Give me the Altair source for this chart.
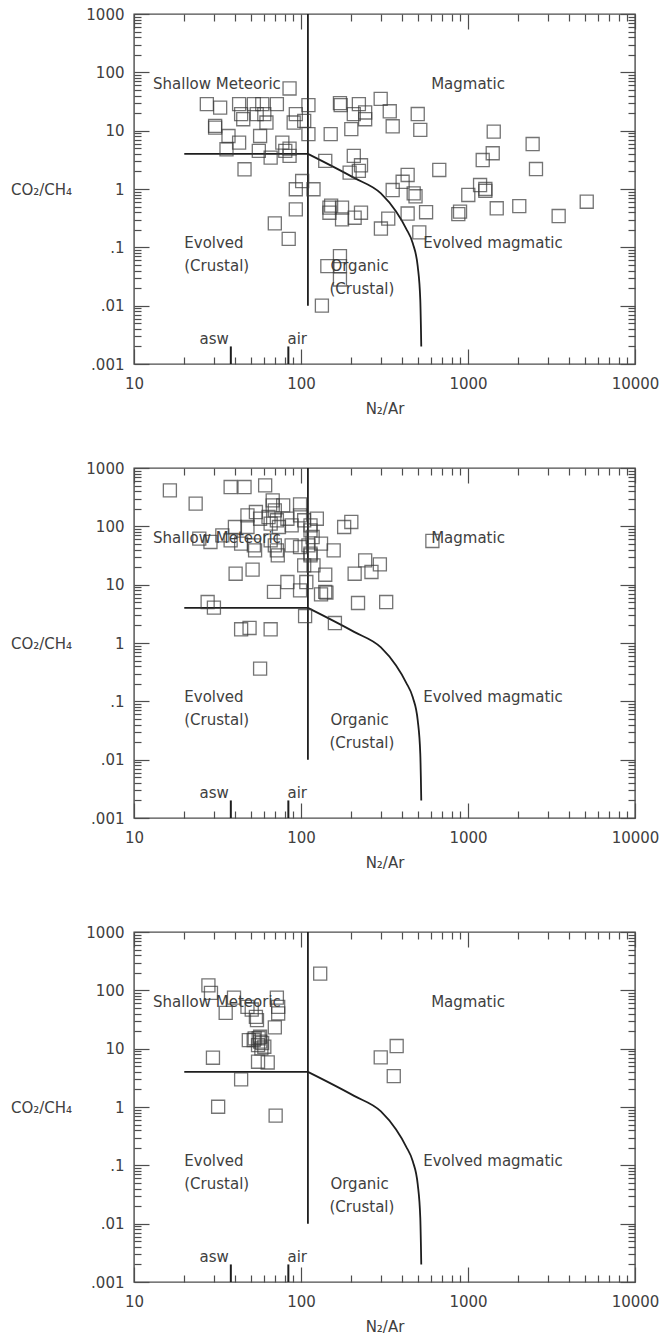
import altair as alt
import pandas as pd

FONT = "DejaVu Sans"
TEXT_COLOR = "#404040"
LINE_COLOR = "#1e1e1e"
FRAME_COLOR = "#4d4d4d"
MARK_COLOR = "#3a3a3a"
PLOT_W, PLOT_H = 501, 350

# ---------------- sample data (N2/Ar, CO2/CH4) ----------------
p1_n2ar = [27.3, 32.8, 30.6, 30.6, 36.8, 35.8, 42.6, 43.8, 45.1, 42.6,
           45.9, 52.2, 54.3, 55.9, 56.9, 58.6, 60.3, 62.1, 65.8, 71.7,
           77.3, 80.5, 85.4, 85.4, 93.1, 90.4, 104.5, 110.8, 110.8, 85.4,
           101.6, 93.1, 118.8, 93.1, 69.7, 84.4, 150.6, 139.7, 171.1, 172.8,
           207.1, 200.1, 222.1, 242.2, 242.2, 300, 340, 354, 207.1, 228.7,
           222.1, 195.5, 500, 518, 148, 148, 151.5, 176.1, 176.1, 209.5,
           228.7, 301, 333, 354, 406, 435, 473, 485, 435, 561,
           511, 171.1, 171.1, 143.8, 171.1, 133.4, 673, 1004, 896, 875,
           1181, 1270, 1270, 1225, 1406, 1426, 1486, 2028, 2438, 2553,
           3490, 5140]
p1_co2ch4 = [28.5, 24.9, 12.1, 11.3, 8.1, 4.8, 28.5, 19.2, 15.7, 6.25,
             2.18, 28.5, 19.2, 4.5, 8.1, 28.5, 19.2, 13.8, 3.45, 28.5,
             6.25, 4.5, 52.9, 3.69, 19.2, 13.8, 14.7, 27.4, 8.7, 4.93,
             1.37, 0.99, 0.99, 0.447, 0.257, 0.140, 8.7, 3.03, 29.6, 27.4,
             19.2, 10.6, 28.5, 20.5, 15.7, 35, 21.5, 11.9, 3.69, 2.55,
             2.04, 1.91, 19.3, 10.3, 0.478, 0.392, 0.52, 0.478, 0.301, 0.322,
             0.392, 0.21, 0.31, 0.96, 1.33, 1.74, 0.84, 0.75, 0.38, 0.40,
             0.18, 0.0707, 0.0476, 0.0476, 0.0281, 0.0100, 2.12, 0.79, 0.41, 0.37,
             1.17, 1.0, 0.93, 3.14, 4.1, 9.6, 0.467, 0.51, 5.9, 2.2,
             0.344, 0.605]

p2_n2ar = [16.4, 23.4, 37.9, 45.9, 61.0, 67.7, 67.7, 69.7, 78.2, 98.7,
           40.2, 47.8, 47.8, 53.7, 56.9, 63.9, 65.8, 71.7, 73.8, 82.9,
           87.9, 98.7, 104.5, 114, 124.4, 114, 117.4, 131.8, 156.9, 181.3,
           200.1, 24.6, 28.7, 33.8, 37.9, 43.8, 52.2, 53.1, 65.8, 69.7,
           71.7, 72.6, 87.9, 98.7, 110.8, 114, 114, 104.5, 118.8, 40.6,
           51.3, 82.9, 68.9, 98.7, 107.6, 131.8, 139.7, 142, 139.7, 209.5,
           242.2, 264.2, 296.7, 219.5, 323.6, 27.6, 30.1, 43.8, 49.2, 65.8,
           105.8, 159.6, 56.9, 612]
p2_co2ch4 = [414, 245, 472, 472, 505, 279, 229, 188, 229, 238,
             97.4, 154, 97.4, 176, 135, 144.5, 111, 127, 97.4, 135,
             104, 154, 127, 104, 135, 85.4, 65.6, 50.5, 38.8, 97.4,
             118.7, 61.4, 53.9, 70.1, 57.5, 50.5, 47.2, 38.8, 57.5, 47.2,
             38.8, 31.8, 47.2, 44.2, 47.2, 34, 31.8, 21.4, 21.4, 15.4,
             18.1, 11.1, 7.5, 8.0, 11.1, 6.8, 7.5, 7.3, 14.8, 15.4,
             26.1, 16.5, 22.3, 4.85, 5.04, 5.04, 4.03, 1.72, 1.81, 1.72,
             2.9, 2.2, 0.363, 56.1]

p3_n2ar = [27.9, 28.9, 39.7, 35.4, 71.7, 73.0, 73.0, 47.8, 50.7, 53.7,
           54.5, 69.7, 48.7, 52.8, 56.9, 55.3, 57.9, 60.3, 55.3, 63.2,
           29.7, 43.8, 31.9, 70.5, 130.3, 300.2, 374, 359.3, 55.8, 57.0,
           52.1, 58.5]
p3_co2ch4 = [122, 90.4, 75.2, 41.1, 75.2, 52.1, 40.1, 52.1, 46.9, 35.1,
             30.8, 23.1, 14.0, 15.0, 16.0, 11.5, 10.1, 10.8, 5.97, 5.8,
             6.99, 2.97, 1.01, 0.71, 194, 7.08, 11.1, 3.39, 15.1, 13.2,
             14.1, 12.5]

# ---------------- field boundaries ----------------
flat_n2ar = [20, 110]
flat_co2ch4 = [4, 4]
curve_n2ar = [110, 208, 301, 371, 426, 467, 500, 518, 525]
curve_co2ch4 = [4, 1.55, 0.84, 0.41, 0.21, 0.117, 0.047, 0.0125, 0.002]
divider_n2ar = [110]
divider_lo = [0.01]
divider_hi = [1000]
ref_n2ar = [38, 84]
ref_lo = [0.001, 0.001]
ref_hi = [0.002, 0.002]

# ---------------- region labels ----------------
label_text = ["Shallow Meteoric", "Magmatic", "Evolved magmatic", "Evolved",
              "(Crustal)", "Organic", "(Crustal)", "asw", "air"]
label_x = [13, 1000, 539, 20, 20, 150, 148, 37, 83]
label_y = [63, 63, 0.12, 0.12, 0.048, 0.048, 0.0195, 0.0027, 0.0027]
label_align = ["left", "center", "left", "left", "left", "left", "left",
               "right", "left"]

# ---------------- axis ticks ----------------
x_major = [10, 100, 1000, 10000]
y_major = [0.001, 0.01, 0.1, 1, 10, 100, 1000]
x_minor = [m * d for d in (10, 100, 1000) for m in range(2, 10)]
y_minor = [m * d for d in (0.001, 0.01, 0.1, 1, 10, 100) for m in range(2, 10)]

XS = alt.Scale(type="log", domain=[10, 10000], nice=False)
YS = alt.Scale(type="log", domain=[0.001, 1000], nice=False)

flat_df = pd.DataFrame({"x": flat_n2ar, "y": flat_co2ch4})
curve_df = pd.DataFrame({"x": curve_n2ar, "y": curve_co2ch4})
divider_df = pd.DataFrame({"x": divider_n2ar, "y": divider_lo, "y2": divider_hi})
ref_df = pd.DataFrame({"x": ref_n2ar, "y": ref_lo, "y2": ref_hi})
labels_df = pd.DataFrame({"x": label_x, "y": label_y, "text": label_text,
                          "align": label_align})


def tick_layer(df, x_orient, y_orient, xv, yv, size):
    return alt.Chart(df).mark_point(opacity=0).encode(
        x=alt.X("n2ar:Q", scale=XS,
                axis=alt.Axis(orient=x_orient, offset=-PLOT_H, values=xv,
                              tickSize=size, labels=False, domain=False,
                              grid=False, title=None, tickColor=FRAME_COLOR,
                              tickWidth=1.2)),
        y=alt.Y("co2ch4:Q", scale=YS,
                axis=alt.Axis(orient=y_orient, offset=-PLOT_W, values=yv,
                              tickSize=size, labels=False, domain=False,
                              grid=False, title=None, tickColor=FRAME_COLOR,
                              tickWidth=1.2)),
    )


def panel(xs, ys):
    df = pd.DataFrame({"n2ar": xs, "co2ch4": ys})
    layers = [
        tick_layer(df, "top", "right", x_major, y_major, 15),
        tick_layer(df, "top", "right", x_minor, y_minor, 7),
        tick_layer(df, "bottom", "left", x_major, y_major, 15),
        tick_layer(df, "bottom", "left", x_minor, y_minor, 7),
    ]
    enc_xy = dict(x=alt.X("x:Q", scale=XS, axis=None),
                  y=alt.Y("y:Q", scale=YS, axis=None))
    layers.append(alt.Chart(flat_df).mark_line(color=LINE_COLOR, strokeWidth=1.8)
                  .encode(**enc_xy))
    layers.append(alt.Chart(curve_df).mark_line(color=LINE_COLOR, strokeWidth=1.8,
                                                interpolate="monotone")
                  .encode(**enc_xy))
    layers.append(alt.Chart(divider_df).mark_rule(color=LINE_COLOR, strokeWidth=1.8)
                  .encode(y2="y2:Q", **enc_xy))
    layers.append(alt.Chart(ref_df).mark_rule(color=LINE_COLOR, strokeWidth=2)
                  .encode(y2="y2:Q", **enc_xy))
    for al in ("left", "center", "right"):
        sub = labels_df[labels_df["align"] == al]
        layers.append(alt.Chart(sub).mark_text(align=al, baseline="middle",
                                               font=FONT, fontSize=15,
                                               color=TEXT_COLOR)
                      .encode(text="text:N", **enc_xy))
    pts = alt.Chart(df).mark_square(filled=False, size=170, color=MARK_COLOR,
                                    strokeWidth=1.3).encode(
        x=alt.X("n2ar:Q", scale=XS,
                axis=alt.Axis(orient="bottom", values=x_major, ticks=False,
                              tickSize=0, domain=False, grid=False,
                              labelExpr="toString(datum.value)",
                              labelFlush=False, labelOverlap=False,
                              labelFont=FONT, labelFontSize=15,
                              labelColor=TEXT_COLOR, labelPadding=12,
                              title="N\u2082/Ar", titleFont=FONT,
                              titleFontSize=15, titleFontWeight="normal",
                              titleColor=TEXT_COLOR, titleBaseline="alphabetic",
                              titleY=49)),
        y=alt.Y("co2ch4:Q", scale=YS,
                axis=alt.Axis(orient="left", values=y_major, ticks=False,
                              tickSize=0, domain=False, grid=False,
                              labelExpr="datum.value < 1 ? replace(toString(datum.value), '0.', '.') : toString(datum.value)",
                              labelFlush=False, labelOverlap=False,
                              labelFont=FONT, labelFontSize=15,
                              labelColor=TEXT_COLOR, labelPadding=10,
                              title="CO\u2082/CH\u2084", titleFont=FONT,
                              titleFontSize=15, titleFontWeight="normal",
                              titleColor=TEXT_COLOR, titleAngle=0,
                              titleAlign="center", titleBaseline="middle",
                              titleX=-93, titleY=175)),
    )
    layers.append(pts)
    return alt.layer(*layers).resolve_axis(x="independent", y="independent") \
        .properties(width=PLOT_W, height=PLOT_H)


def spacer(h):
    return alt.Chart(pd.DataFrame({"v": [0]})).mark_point(opacity=0).properties(
        width=PLOT_W, height=h, view=alt.ViewBackground(stroke="transparent"))


chart = alt.vconcat(
    panel(p1_n2ar, p1_co2ch4),
    spacer(4),
    panel(p2_n2ar, p2_co2ch4),
    spacer(14),
    panel(p3_n2ar, p3_co2ch4),
    spacing=50, bounds="flush",
).configure(
    padding={"left": 9, "top": 6, "right": 0, "bottom": 0},
    background="white",
).configure_view(stroke=FRAME_COLOR, strokeWidth=1.4)

chart.save("out.html", embed_options={"renderer": "svg", "actions": False})
